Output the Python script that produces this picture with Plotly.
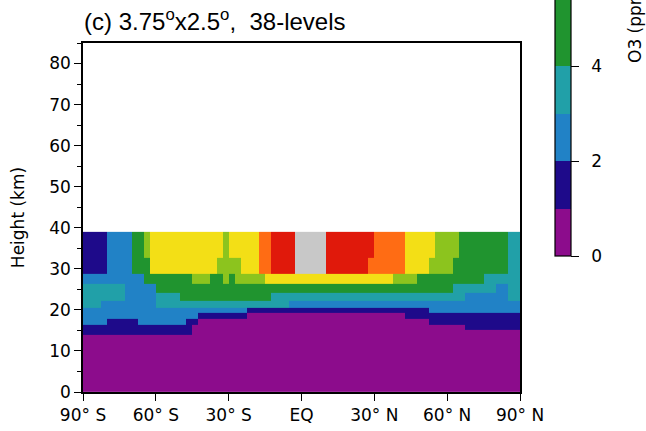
import numpy as np
import plotly.graph_objects as go

# ---------------- data ----------------
# latitude cell edges (2.5 deg grid) and model level edges (km)
lat_edges = np.linspace(-90, 90, 73)
height_edges = [0, 14.0, 15.1, 16.4, 17.8, 19.2, 20.5, 22.1, 24.2, 26.3, 28.8, 32.6, 39.0]

# O3 class index per cell, one string per level (bottom -> top),
# one character per 2.5-degree latitude band (90S -> 90N)
o3_rows = [
    "0000000000" "0000000000" "0000000000" "0000000000" "0000000000" "0000000000" "0000000000" "00",
    "1111111111" "1111111100" "0000000000" "0000000000" "0000000000" "0000000000" "0000000000" "00",
    "1111111111" "1111111100" "0000000000" "0000000000" "0000000000" "0000000000" "0001111111" "11",
    "2222111112" "2222222110" "0000000000" "0000000000" "0000000000" "0000000111" "1111111111" "11",
    "2222222222" "2222222221" "1111111000" "0000000000" "0000000000" "0001111111" "1111111111" "11",
    "2222222222" "2222222222" "2222222111" "1111111111" "1111111111" "1111111222" "2222222222" "22",
    "3332222222" "2233333333" "3333333333" "3333222222" "2222222222" "2222222222" "2222222222" "22",
    "3333333222" "2233334444" "4444444444" "4333333333" "3333333333" "3333333333" "3332222222" "33",
    "3333333222" "2244444444" "4444444444" "4444444444" "4444444444" "4444444444" "4333333322" "33",
    "2222222222" "4444444455" "5445455555" "6666666666" "6666666666" "6555544444" "4444443333" "33",
    "1111222244" "4666666666" "6655556667" "7888899999" "8888888777" "7776666555" "5444444444" "33",
    "1111222244" "5666666666" "6665666667" "7888899999" "8888888877" "7776666655" "5544444444" "33",
]

# contour level boundaries (ppmv) and their colours
level_bounds = [0, 1, 2, 3, 4, 6, 7, 8, 9, 9.5, 10]
level_colors = ["#8c0c8c", "#1e0a8a", "#2182c6", "#21a0a8", "#20942f",
                "#8cc41e", "#f3df16", "#ff6c14", "#e0190b", "#c8c8c8"]
cbar_ticks = [0, 2, 4]
cbar_ticktext = ["0", "2", "4"]

x_tickvals = [-90, -60, -30, 0, 30, 60, 90]
x_ticktext = ["90° S", "60° S", "30° S", "EQ", "30° N", "60° N", "90° N"]
y_tickvals = [0, 10, 20, 30, 40, 50, 60, 70, 80]

# ---------------- figure ----------------
zmin, zmax = level_bounds[0], level_bounds[-1]
mids = [(level_bounds[k] + level_bounds[k + 1]) / 2 for k in range(len(level_colors))]
z = [[mids[int(c)] for c in row] for row in o3_rows]
cscale = []
for k, c in enumerate(level_colors):
    cscale.append([(level_bounds[k] - zmin) / (zmax - zmin), c])
    cscale.append([(level_bounds[k + 1] - zmin) / (zmax - zmin), c])

W, H = 646, 431
L, R, T, B = 83, 126, 43, 39
plot_w = W - L - R
plot_h = H - T - B

cb_bottom_px = 256
cb_top_px = -219
cb_y = (H - B - cb_bottom_px) / plot_h
cb_len = (cb_bottom_px - cb_top_px) / plot_h

font_main = "DejaVu Sans"
# invisible spacer in front of colour-bar labels (pushes them off the ticks)
spacer = '<span style="color:white">s</span>'

fig = go.Figure(go.Heatmap(
    x=lat_edges, y=height_edges, z=z,
    zmin=zmin, zmax=zmax, colorscale=cscale,
    colorbar=dict(
        x=(555 - L) / plot_w, xanchor="left", xpad=0,
        y=cb_y, yanchor="bottom", ypad=0,
        len=cb_len, lenmode="fraction",
        thickness=16,
        outlinecolor="black", outlinewidth=1.2,
        tickmode="array", tickvals=cbar_ticks,
        ticktext=[spacer + t for t in cbar_ticktext],
        ticks="outside", ticklen=8, tickwidth=1.3, tickcolor="black",
        tickfont=dict(family=font_main, size=17, color="black"),
    ),
    hoverinfo="skip",
))

NB = "\u00a0"
fig.update_layout(
    width=W, height=H,
    margin=dict(l=L, r=R, t=T, b=B, pad=0, autoexpand=False),
    paper_bgcolor="white", plot_bgcolor="white",
    xaxis=dict(range=[-90, 90], tickvals=x_tickvals, ticktext=x_ticktext,
               ticks="outside", ticklen=7, tickwidth=1.3, tickcolor="black",
               showline=True, linecolor="black", linewidth=1.5, mirror=True,
               showgrid=False, zeroline=False, automargin=False,
               tickfont=dict(family=font_main, size=17, color="black")),
    yaxis=dict(range=[0, 85], tickvals=y_tickvals,
               ticks="outside", ticklen=7, tickwidth=1.3, tickcolor="black",
               minor=dict(dtick=5, tick0=0, ticks="outside", ticklen=4, tickcolor="black", tickwidth=1),
               showline=True, linecolor="black", linewidth=1.5, mirror=True,
               showgrid=False, zeroline=False, automargin=False,
               title=dict(text="Height (km)", standoff=20,
                          font=dict(family=font_main, size=17, color="black")),
               tickfont=dict(family=font_main, size=17, color="black")),
    annotations=[
        dict(text="(c)" + NB + "3.75<sup>o</sup>x2.5<sup>o</sup>," + NB * 2 + "38-levels",
             xref="paper", yref="paper",
             x=(82 - L) / plot_w, y=1.0, xanchor="left", yanchor="bottom",
             yshift=6, showarrow=False,
             font=dict(family="Liberation Sans", size=24, color="black")),
        dict(text="O3 (ppmv)", xref="paper", yref="paper",
             x=(635 - L) / plot_w, y=(H - B - 18) / plot_h,
             xanchor="center", yanchor="middle", textangle=-90, showarrow=False,
             font=dict(family=font_main, size=17, color="black")),
    ],
)

fig.write_html("out.html", config={"displayModeBar": False},
               post_script="document.body.style.margin='0';")
